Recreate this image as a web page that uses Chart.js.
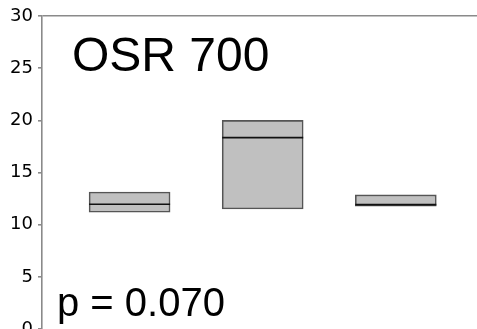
<!DOCTYPE html>
<html>
<head>
<meta charset="utf-8">
<script src="https://cdn.jsdelivr.net/npm/chart.js@4.4.1/dist/chart.umd.min.js"></script>
<style>
  html, body { margin: 0; padding: 0; background: #fff; overflow: hidden; }
  #wrap { width: 477px; height: 345px; }
</style>
</head>
<body>
<div id="wrap"><canvas id="c" width="477" height="345"></canvas></div>
<script>
// Group positions along the x axis
const groups = [1, 2, 3];
// Lower quartile, upper quartile and median of each group
const lowerQuartile = [11.21, 11.52, 11.78];
const upperQuartile = [13.14, 20.0, 12.86];
const medians = [11.97, 18.35, 11.93];
// Y axis ticks
const yTicks = [0, 5, 10, 15, 20, 25, 30];
const titleText = 'OSR 700';
const pText = 'p = 0.070';

const FONT = "'Liberation Sans', Arial, sans-serif";
const TICK_FONT = "'DejaVu Sans', 'Liberation Sans', sans-serif";
const AXIS_GREY = '#8a8a8a';

// Median lines across each box, taken from the drawn bar elements
const medianPlugin = {
  id: 'medianLines',
  afterDatasetsDraw(chart) {
    const ctx = chart.ctx;
    const y = chart.scales.y;
    const meta = chart.getDatasetMeta(0);
    ctx.save();
    ctx.strokeStyle = '#111';
    ctx.lineWidth = 1.6;
    meta.data.forEach((bar, i) => {
      const py = y.getPixelForValue(medians[i]);
      const half = bar.width / 2;
      ctx.beginPath();
      ctx.moveTo(bar.x - half, py);
      ctx.lineTo(bar.x + half, py);
      ctx.stroke();
    });
    ctx.restore();
  }
};

// Panel heading and test result written inside the plot area
const textPlugin = {
  id: 'panelText',
  afterDraw(chart) {
    const ctx = chart.ctx;
    const a = chart.chartArea;
    ctx.save();
    ctx.fillStyle = '#000';
    ctx.textBaseline = 'alphabetic';
    ctx.textAlign = 'left';
    ctx.font = '48px ' + FONT;
    ctx.fillText(titleText, a.left + 30, a.top + 55);
    ctx.font = '40px ' + FONT;
    ctx.fillText(pText, a.left + 15, a.top + 300);
    ctx.restore();
  }
};

new Chart(document.getElementById('c'), {
  type: 'bar',
  data: {
    datasets: [{
      data: groups.map((g, i) => ({ x: g, y: [lowerQuartile[i], upperQuartile[i]] })),
      backgroundColor: '#c0c0c0',
      borderColor: '#555555',
      borderWidth: 1.6,
      borderSkipped: false,
      barThickness: 81
    }]
  },
  options: {
    responsive: false,
    devicePixelRatio: 1,
    animation: false,
    layout: { padding: { top: 16, bottom: 14, left: 0, right: 0 } },
    plugins: { legend: { display: false }, tooltip: { enabled: false } },
    scales: {
      x: {
        type: 'linear',
        display: false,
        offset: false,
        min: 0.342,
        max: 3.61
      },
      y: {
        min: 0,
        max: 30,
        afterFit(scale) { scale.width = 42; },
        afterBuildTicks(scale) { scale.ticks = yTicks.map(v => ({ value: v })); },
        border: { display: true, color: AXIS_GREY, width: 1.6 },
        grid: {
          drawOnChartArea: true,
          drawTicks: true,
          tickLength: 4,
          tickColor: AXIS_GREY,
          lineWidth: 1.6,
          color: ctx => (ctx.tick && ctx.tick.value === 30 ? AXIS_GREY : 'rgba(0,0,0,0)')
        },
        ticks: {
          color: '#000',
          padding: 5,
          font: { family: TICK_FONT, size: 18 }
        }
      }
    }
  },
  plugins: [medianPlugin, textPlugin]
});
</script>
</body>
</html>
